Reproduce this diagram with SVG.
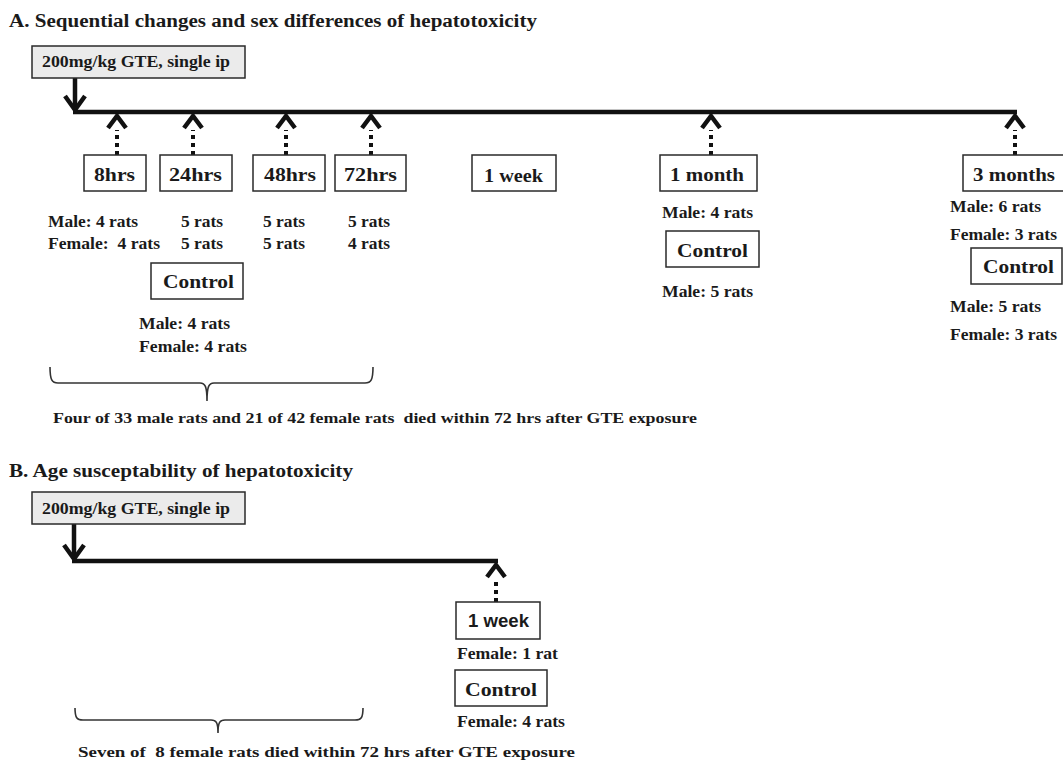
<svg xmlns="http://www.w3.org/2000/svg" xmlns:xlink="http://www.w3.org/1999/xlink" width="1063" height="760" viewBox="0 0 1063 760">
<style>
.t{font-family:"Liberation Serif","Times New Roman",serif;font-weight:bold;fill:#1a1a1a}
.s{font-family:"Liberation Sans",Arial,sans-serif;font-weight:bold;fill:#1a1a1a}
.title{font-size:18px}
.lbl{font-size:19px}
.cnt{font-size:16px}
.note{font-size:15px}
.box{fill:#fff;stroke:#2a2a2a;stroke-width:1.5}
.gbox{fill:#ebebeb;stroke:#2a2a2a;stroke-width:1.5}
.line{stroke:#111;stroke-width:4.5;fill:none}
.dot{stroke:#111;stroke-width:4;stroke-dasharray:4 4;fill:none}
.chev{fill:none;stroke:#111;stroke-width:4.5;stroke-linejoin:miter;stroke-linecap:butt}
.brace{fill:none;stroke:#333;stroke-width:1.6}
</style>
<defs>
<path id="chev" class="chev" d="M-9,13 L0,1 L9,13"/>
<path id="down" class="chev" d="M-10,-15 L0,-1 L10,-15"/>
</defs>
<rect width="1063" height="760" fill="#fff"/>

<!-- Part A -->
<text class="t title" x="9" y="27" textLength="528" lengthAdjust="spacingAndGlyphs">A. Sequential changes and sex differences of hepatotoxicity</text>

<g id="connectors">
  <!-- A -->
  <line class="line" x1="75" y1="78" x2="75" y2="110"/>
  <use xlink:href="#down" x="75" y="111"/>
  <line class="line" x1="73" y1="112" x2="1017" y2="112"/>
  <line class="dot" x1="117" y1="155" x2="117" y2="130"/><use xlink:href="#chev" x="117" y="115"/>
  <line class="dot" x1="193" y1="155" x2="193" y2="130"/><use xlink:href="#chev" x="193" y="115"/>
  <line class="dot" x1="286" y1="155" x2="286" y2="130"/><use xlink:href="#chev" x="286" y="115"/>
  <line class="dot" x1="371" y1="155" x2="371" y2="130"/><use xlink:href="#chev" x="371" y="115"/>
  <line class="dot" x1="711" y1="155" x2="711" y2="130"/><use xlink:href="#chev" x="711" y="115"/>
  <line class="dot" x1="1015" y1="155" x2="1015" y2="130"/><use xlink:href="#chev" x="1015" y="115"/>
  <!-- B -->
  <line class="line" x1="74" y1="524" x2="74" y2="559"/>
  <use xlink:href="#down" x="74" y="560"/>
  <line class="line" x1="72" y1="561" x2="498" y2="561"/>
  <line class="dot" x1="496" y1="602" x2="496" y2="579"/><use xlink:href="#chev" x="496" y="564"/>
</g>

<g id="dose-a">
  <rect class="gbox" x="32" y="46" width="213" height="32"/>
  <text class="t cnt" x="42" y="67" textLength="188" lengthAdjust="spacingAndGlyphs">200mg/kg GTE, single ip</text>
</g>

<g id="t8">
  <rect class="box" x="84" y="155" width="62" height="36"/>
  <text class="t lbl" x="94" y="181" textLength="41" lengthAdjust="spacingAndGlyphs">8hrs</text>
  <text class="t cnt" x="48" y="227" textLength="90" lengthAdjust="spacingAndGlyphs">Male: 4 rats</text>
  <text class="t cnt" x="48" y="249" textLength="112" lengthAdjust="spacingAndGlyphs" xml:space="preserve">Female:  4 rats</text>
</g>
<g id="t24">
  <rect class="box" x="160" y="155" width="72" height="36"/>
  <text class="t lbl" x="169" y="181" textLength="53" lengthAdjust="spacingAndGlyphs">24hrs</text>
  <text class="t cnt" x="181" y="227" textLength="42" lengthAdjust="spacingAndGlyphs">5 rats</text>
  <text class="t cnt" x="181" y="249" textLength="42" lengthAdjust="spacingAndGlyphs">5 rats</text>
</g>
<g id="t48">
  <rect class="box" x="253" y="155" width="72" height="36"/>
  <text class="t lbl" x="264" y="181" textLength="52" lengthAdjust="spacingAndGlyphs">48hrs</text>
  <text class="t cnt" x="263" y="227" textLength="42" lengthAdjust="spacingAndGlyphs">5 rats</text>
  <text class="t cnt" x="263" y="249" textLength="42" lengthAdjust="spacingAndGlyphs">5 rats</text>
</g>
<g id="t72">
  <rect class="box" x="335" y="155" width="71" height="36"/>
  <text class="t lbl" x="344" y="181" textLength="53" lengthAdjust="spacingAndGlyphs">72hrs</text>
  <text class="t cnt" x="348" y="227" textLength="42" lengthAdjust="spacingAndGlyphs">5 rats</text>
  <text class="t cnt" x="348" y="249" textLength="42" lengthAdjust="spacingAndGlyphs">4 rats</text>
</g>
<g id="control-a1">
  <rect class="box" x="151" y="263" width="92" height="36"/>
  <text class="t lbl" x="163" y="288" textLength="71" lengthAdjust="spacingAndGlyphs">Control</text>
  <text class="t cnt" x="139" y="329" textLength="91" lengthAdjust="spacingAndGlyphs">Male: 4 rats</text>
  <text class="t cnt" x="139" y="352" textLength="108" lengthAdjust="spacingAndGlyphs">Female: 4 rats</text>
</g>
<g id="t1week-a">
  <rect class="box" x="472" y="155" width="84" height="36"/>
  <text class="t lbl" x="484" y="182" textLength="59" lengthAdjust="spacingAndGlyphs">1 week</text>
</g>
<g id="t1month">
  <rect class="box" x="660" y="155" width="97" height="36"/>
  <text class="t lbl" x="670" y="181" textLength="74" lengthAdjust="spacingAndGlyphs">1 month</text>
  <text class="t cnt" x="662" y="218" textLength="91" lengthAdjust="spacingAndGlyphs">Male: 4 rats</text>
</g>
<g id="control-a2">
  <rect class="box" x="666" y="231" width="93" height="36"/>
  <text class="t lbl" x="677" y="257" textLength="71" lengthAdjust="spacingAndGlyphs">Control</text>
  <text class="t cnt" x="662" y="297" textLength="91" lengthAdjust="spacingAndGlyphs">Male: 5 rats</text>
</g>
<g id="t3months">
  <rect class="box" x="963" y="155" width="110" height="36"/>
  <text class="t lbl" x="973" y="181" textLength="82" lengthAdjust="spacingAndGlyphs">3 months</text>
  <text class="t cnt" x="950" y="212" textLength="91" lengthAdjust="spacingAndGlyphs">Male: 6 rats</text>
  <text class="t cnt" x="950" y="240" textLength="107" lengthAdjust="spacingAndGlyphs">Female: 3 rats</text>
</g>
<g id="control-a3">
  <rect class="box" x="971" y="248" width="91" height="36"/>
  <text class="t lbl" x="983" y="273" textLength="71" lengthAdjust="spacingAndGlyphs">Control</text>
  <text class="t cnt" x="950" y="312" textLength="91" lengthAdjust="spacingAndGlyphs">Male: 5 rats</text>
  <text class="t cnt" x="950" y="340" textLength="107" lengthAdjust="spacingAndGlyphs">Female: 3 rats</text>
</g>
<g id="brace-a">
  <path class="brace" d="M50,367 C50,380 52,383 58,383 H200 C205,383 207,386 207,401 C207,386 209,383 214,383 H365 C371,383 373,380 373,367"/>
  <text class="t note" x="53" y="423" textLength="644" lengthAdjust="spacingAndGlyphs" xml:space="preserve">Four of 33 male rats and 21 of 42 female rats  died within 72 hrs after GTE exposure</text>
</g>

<!-- Part B -->
<text class="t title" x="9" y="477" textLength="344" lengthAdjust="spacingAndGlyphs">B. Age susceptability of hepatotoxicity</text>

<g id="dose-b">
  <rect class="gbox" x="32" y="492" width="213" height="32"/>
  <text class="t cnt" x="42" y="514" textLength="188" lengthAdjust="spacingAndGlyphs">200mg/kg GTE, single ip</text>
</g>
<g id="t1week-b">
  <rect class="box" x="456" y="602" width="84" height="37"/>
  <text class="s lbl" x="468" y="627" textLength="61" lengthAdjust="spacingAndGlyphs">1 week</text>
  <text class="t cnt" x="457" y="659" textLength="101" lengthAdjust="spacingAndGlyphs">Female: 1 rat</text>
</g>
<g id="control-b">
  <rect class="box" x="455" y="670" width="92" height="36"/>
  <text class="t lbl" x="465" y="696" textLength="72" lengthAdjust="spacingAndGlyphs">Control</text>
  <text class="t cnt" x="457" y="727" textLength="108" lengthAdjust="spacingAndGlyphs">Female: 4 rats</text>
</g>
<g id="brace-b">
  <path class="brace" d="M75,708 C75,718 77,720 83,720 H211 C216,720 218,722 218,733 C218,722 220,720 225,720 H355 C361,720 363,718 363,708"/>
  <text class="t note" x="78" y="757" textLength="497" lengthAdjust="spacingAndGlyphs" xml:space="preserve">Seven of  8 female rats died within 72 hrs after GTE exposure</text>
</g>
</svg>
